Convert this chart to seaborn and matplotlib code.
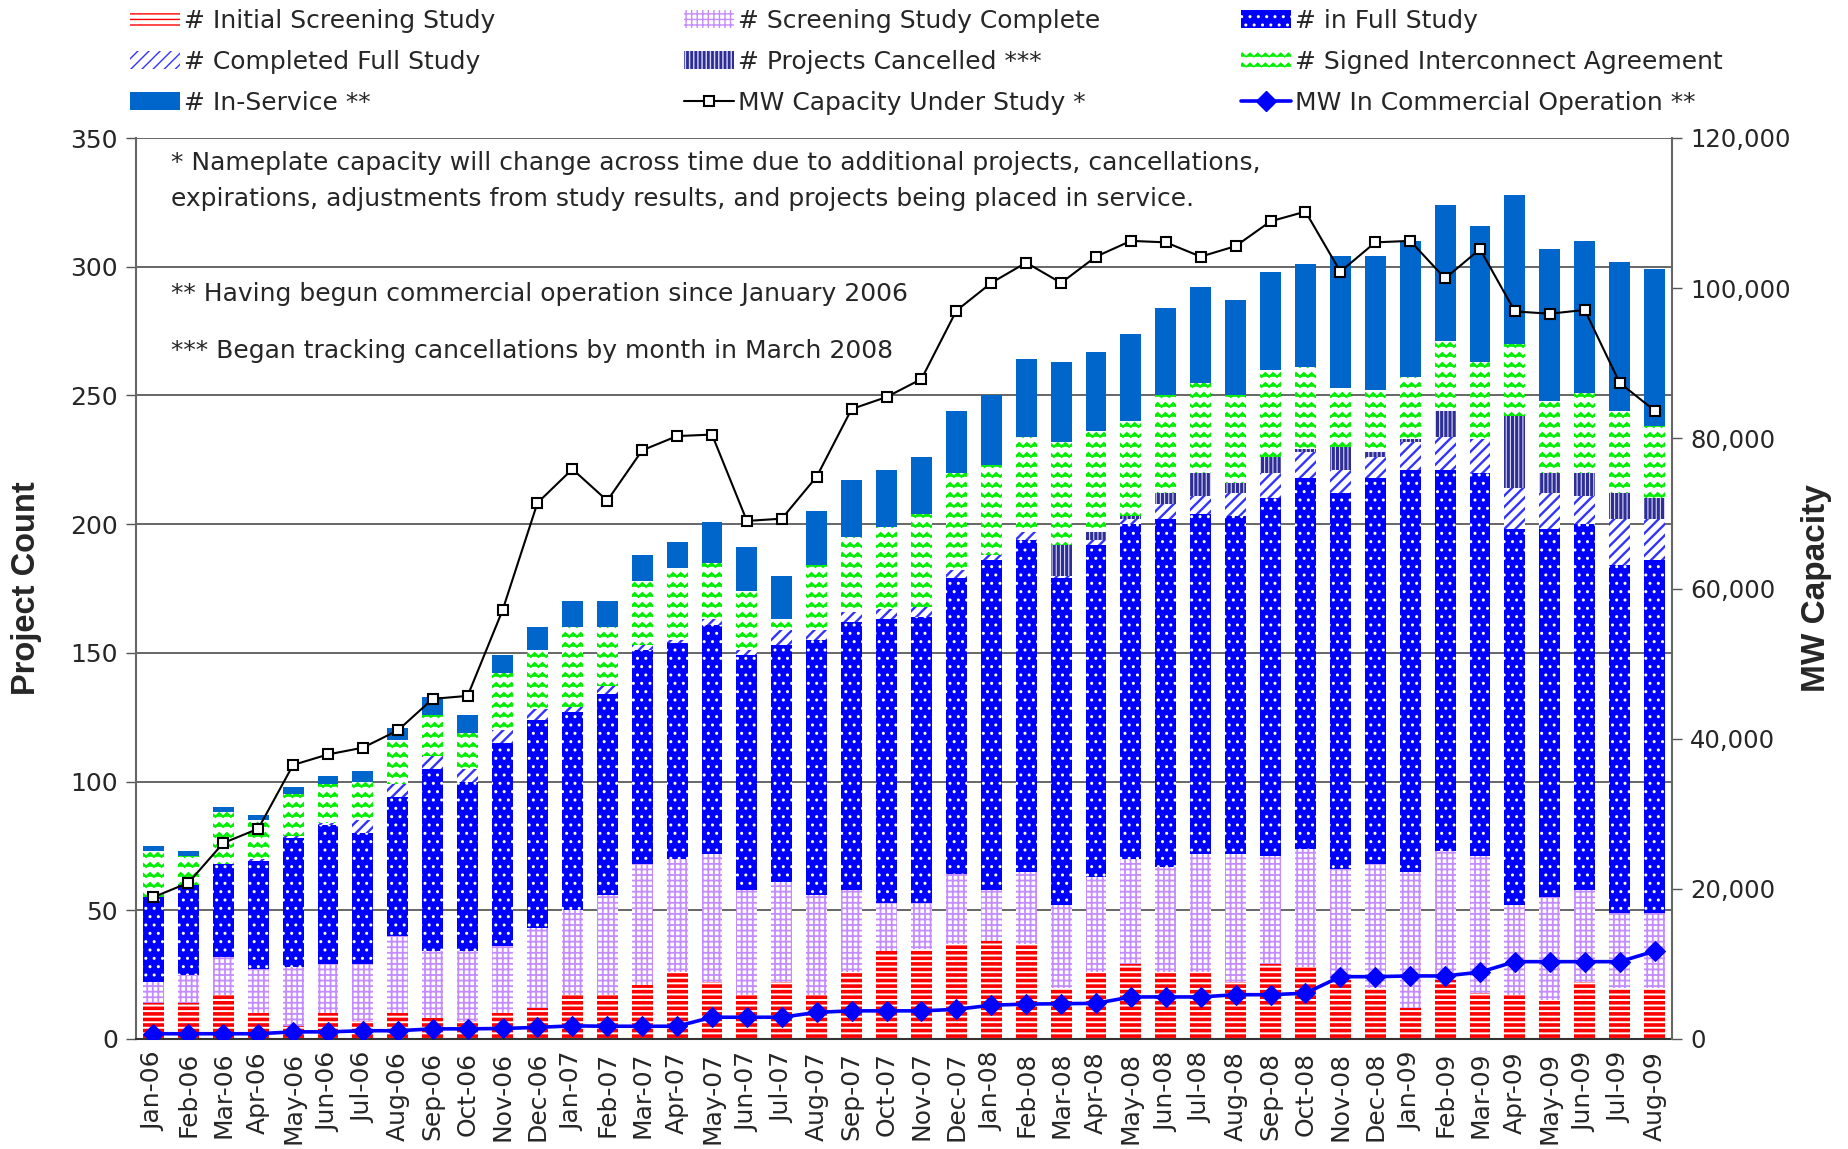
import warnings
import numpy as np
import pandas as pd
import matplotlib
matplotlib.use("Agg")
import matplotlib.pyplot as plt
import matplotlib.hatch as mhatch
from matplotlib.path import Path
from matplotlib.patches import Patch
from matplotlib.lines import Line2D
from matplotlib.ticker import FuncFormatter
import seaborn as sns

warnings.filterwarnings("ignore")

# ---------------- data ----------------
months = ["Jan-06", "Feb-06", "Mar-06", "Apr-06", "May-06", "Jun-06", "Jul-06", "Aug-06",
          "Sep-06", "Oct-06", "Nov-06", "Dec-06", "Jan-07", "Feb-07", "Mar-07", "Apr-07",
          "May-07", "Jun-07", "Jul-07", "Aug-07", "Sep-07", "Oct-07", "Nov-07", "Dec-07",
          "Jan-08", "Feb-08", "Mar-08", "Apr-08", "May-08", "Jun-08", "Jul-08", "Aug-08",
          "Sep-08", "Oct-08", "Nov-08", "Dec-08", "Jan-09", "Feb-09", "Mar-09", "Apr-09",
          "May-09", "Jun-09", "Jul-09", "Aug-09"]

initial_screening = [14, 14, 17, 10, 5, 10, 7, 10, 8, 7, 10, 12,
                     17, 17, 21, 26, 22, 17, 22, 17, 26, 34, 35, 37,
                     38, 37, 20, 26, 29, 26, 26, 22, 29, 28, 23, 20,
                     12, 23, 18, 17, 15, 22, 20, 20]
screening_complete = [8, 11, 15, 17, 23, 19, 22, 30, 26, 27, 26, 31,
                      33, 39, 47, 44, 50, 41, 39, 39, 32, 19, 18, 27,
                      20, 28, 32, 37, 41, 41, 46, 50, 42, 46, 43, 48,
                      53, 50, 53, 35, 40, 36, 29, 29]
in_full_study = [33, 35, 36, 42, 50, 54, 51, 54, 71, 66, 79, 81,
                 77, 78, 83, 84, 89, 91, 92, 99, 104, 110, 111, 115,
                 128, 129, 127, 129, 130, 135, 132, 131, 139, 144, 146, 150,
                 156, 148, 149, 146, 143, 142, 135, 137]
completed_full = [0, 0, 0, 1, 1, 1, 5, 5, 5, 5, 5, 4,
                  2, 3, 2, 1, 2, 2, 6, 4, 4, 4, 4, 3,
                  2, 3, 1, 2, 2, 6, 7, 9, 10, 10, 9, 8,
                  11, 13, 13, 16, 14, 11, 18, 16]
cancelled = [0, 0, 0, 0, 0, 0, 0, 0, 0, 0, 0, 0,
             0, 0, 0, 0, 0, 0, 0, 0, 0, 0, 0, 0,
             0, 0, 12, 3, 1, 4, 9, 4, 6, 1, 9, 2,
             1, 10, 0, 28, 8, 9, 10, 8]
signed_ia = [18, 11, 20, 15, 16, 15, 15, 17, 16, 14, 22, 23,
             31, 23, 25, 28, 22, 23, 4, 25, 29, 32, 36, 38,
             35, 37, 40, 39, 37, 38, 35, 34, 34, 32, 23, 24,
             24, 27, 30, 28, 28, 31, 32, 28]
in_service = [2, 2, 2, 2, 3, 3, 4, 5, 7, 7, 7, 9,
              10, 10, 10, 10, 16, 17, 17, 21, 22, 22, 22, 24,
              27, 30, 31, 31, 34, 34, 37, 37, 38, 40, 51, 52,
              53, 53, 53, 58, 59, 59, 58, 61]

mw_under_study = [18900, 20800, 26100, 28000, 36500, 37900, 38800, 41100, 45300, 45700, 57100, 71400,
                  75900, 71700, 78400, 80300, 80500, 69000, 69300, 74900, 83900, 85500, 87900, 97000,
                  100700, 103400, 100700, 104200, 106300, 106100, 104200, 105600, 108900, 110200, 102200, 106100,
                  106300, 101300, 105200, 96900, 96600, 97100, 87400, 83700]
mw_commercial = [700, 700, 700, 700, 950, 950, 1100, 1100, 1350, 1350, 1400, 1550,
                 1750, 1700, 1700, 1700, 2900, 2900, 2900, 3550, 3750, 3750, 3750, 3950,
                 4500, 4650, 4700, 4750, 5600, 5600, 5600, 5900, 5900, 6100, 8300, 8300,
                 8400, 8400, 8900, 10300, 10300, 10300, 10300, 11700]

notes = ["* Nameplate capacity will change across time due to additional projects, cancellations,",
         "expirations, adjustments from study results, and projects being placed in service.",
         "** Having begun commercial operation since January 2006",
         "*** Began tracking cancellations by month in March 2008"]

# ---------------- custom zig-zag hatch ----------------
class ZigZagHatch(mhatch.HatchPatternBase):
    def __init__(self, hatch, density):
        self.rows = 10 if "z" in hatch else 0
        self.periods = 13
        self.num_vertices = self.rows * (2 * self.periods + 1)

    def set_vertices_and_codes(self, vertices, codes):
        npts = 2 * self.periods + 1
        xs = np.linspace(0, 1, npts)
        off = np.where(np.arange(npts) % 2 == 0, -0.018, 0.018)
        for r in range(self.rows):
            y0 = (r + 0.5) / self.rows
            sl = slice(r * npts, (r + 1) * npts)
            vertices[sl, 0] = xs
            vertices[sl, 1] = y0 + off
            codes[sl] = Path.LINETO
            codes[r * npts] = Path.MOVETO


mhatch._hatch_types.append(ZigZagHatch)
_orig_validate = mhatch._validate_hatch_pattern
mhatch._validate_hatch_pattern = lambda h: _orig_validate(h.replace("z", "") if isinstance(h, str) else h)

# ---------------- styling ----------------
sns.set_style("white")
plt.rcParams["font.family"] = ["DejaVu Sans"]

layers = [
    ("# Initial Screening Study", initial_screening, dict(facecolor="white", edgecolor="#FF0000", hatch="---"), 2.6),
    ("# Screening Study Complete", screening_complete, dict(facecolor="white", edgecolor="#C58CFF", hatch="+++"), 1.3),
    ("# in Full Study", in_full_study, dict(facecolor="#0000FF", edgecolor="white", hatch=".."), 1.0),
    ("# Completed Full Study", completed_full, dict(facecolor="white", edgecolor="#3333FF", hatch="///"), 1.7),
    ("# Projects Cancelled ***", cancelled, dict(facecolor="#2E2E96", edgecolor="#D8D8F4", hatch="||||"), 0.8),
    ("# Signed Interconnect Agreement", signed_ia, dict(facecolor="white", edgecolor="#00EE00", hatch="z"), 1.6),
    ("# In-Service **", in_service, dict(facecolor="#0066CC", edgecolor="#0066CC", hatch=None), 1.0),
]

W, H = 1848, 1149
fig = plt.figure(figsize=(W / 100, H / 100), dpi=100)
fig.patch.set_facecolor("white")
ax_l, ax_r, ax_t, ax_b = 136, 1672, 138, 1039
ax = fig.add_axes([ax_l / W, 1 - ax_b / H, (ax_r - ax_l) / W, (ax_b - ax_t) / H])
ax.set_facecolor("white")

n = len(months)
bottom = np.zeros(n)
handles_patch = {}
for label, vals, style, hlw in layers:
    vals = np.asarray(vals, dtype=float)
    before = len(ax.patches)
    with plt.rc_context({"hatch.linewidth": hlw}):
        sns.barplot(x=months, y=vals, order=months, ax=ax, bottom=bottom.copy(), width=0.6,
                    color=style["facecolor"], saturation=1, errorbar=None, linewidth=0, **style)
        for p in ax.patches[before:]:
            if hasattr(p, "set_hatch_linewidth"):
                p.set_hatch_linewidth(hlw)
            p.set_zorder(2)
        hp = Patch(linewidth=0, **style)
        if hasattr(hp, "set_hatch_linewidth"):
            hp.set_hatch_linewidth(hlw)
    handles_patch[label] = hp
    bottom += vals

ax.set_xlim(-0.5, n - 0.5)
ax.set_ylim(0, 350)
ax.set_yticks(np.arange(0, 351, 50))
ax.yaxis.grid(True, color="#4d4d4d", linewidth=1.2, zorder=0)
ax.set_axisbelow(True)
ax.set_xlabel("")
ax.set_ylabel("")
ax.set_xticks(np.arange(n))
ax.set_xticklabels(months, rotation=90, fontsize=18)
ax.set_xticks(np.arange(-0.5, n, 1), minor=True)
ax.tick_params(axis="x", which="major", length=0, pad=9)
ax.tick_params(axis="x", which="minor", length=7, width=1, color="#555555", direction="out")
ax.tick_params(axis="y", labelsize=18, length=7, width=1, color="#555555", direction="out", pad=6, left=True)
ax.spines["top"].set_visible(False)
ax.spines["left"].set_color("#666666")
ax.spines["left"].set_linewidth(1.5)
ax.spines["bottom"].set_color("#333333")
ax.spines["bottom"].set_linewidth(1.5)
ax.spines["right"].set_visible(False)

ax2 = ax.twinx()
xpos = np.arange(n)
sns.lineplot(x=xpos, y=mw_under_study, ax=ax2, color="black", linewidth=1.5, marker="s",
             markersize=7.5, markerfacecolor="white", markeredgecolor="black", markeredgewidth=1.5)
sns.lineplot(x=xpos, y=mw_commercial, ax=ax2, color="#0000FF", linewidth=2.6, marker="D",
             markersize=10, markerfacecolor="#0000FF", markeredgecolor="#0000FF")
ax2.set_ylim(0, 120000)
ax2.set_yticks(np.arange(0, 120001, 20000))
ax2.yaxis.set_major_formatter(FuncFormatter(lambda v, p: f"{int(v):,}"))
ax2.tick_params(axis="y", labelsize=17.5, length=7, width=1, color="#555555", direction="out", pad=6)
ax2.set_xlim(-0.5, n - 0.5)
ax2.set_ylabel("")
ax2.set_xlabel("")
for s in ["top", "left", "bottom"]:
    ax2.spines[s].set_visible(False)
ax2.spines["right"].set_color("#666666")
ax2.spines["right"].set_linewidth(1.5)

# axis titles
fig.text(27 / W, 1 - 588 / H, "Project Count", rotation=90, ha="center", va="center",
         fontsize=23.5, fontweight="bold", family=["Liberation Sans", "DejaVu Sans"])
fig.text(1817 / W, 1 - 588 / H, "MW Capacity", rotation=90, ha="center", va="center",
         fontsize=24, fontweight="bold", family=["Liberation Sans", "DejaVu Sans"])

# notes
note_y = [163, 199, 294, 351]
for t, y in zip(notes, note_y):
    fig.text(171 / W, 1 - y / H, t, ha="left", va="center", fontsize=18)

# legends (three columns)
line_study = Line2D([], [], color="black", linewidth=1.5, marker="s", markersize=7.5,
                    markerfacecolor="white", markeredgecolor="black", markeredgewidth=1.5)
line_comm = Line2D([], [], color="#0000FF", linewidth=2.6, marker="D", markersize=10,
                   markerfacecolor="#0000FF", markeredgecolor="#0000FF")
col1 = [("# Initial Screening Study", handles_patch["# Initial Screening Study"]),
        ("# Completed Full Study", handles_patch["# Completed Full Study"]),
        ("# In-Service **", handles_patch["# In-Service **"])]
col2 = [("# Screening Study Complete", handles_patch["# Screening Study Complete"]),
        ("# Projects Cancelled ***", handles_patch["# Projects Cancelled ***"]),
        ("MW Capacity Under Study *", line_study)]
col3 = [("# in Full Study", handles_patch["# in Full Study"]),
        ("# Signed Interconnect Agreement", handles_patch["# Signed Interconnect Agreement"]),
        ("MW In Commercial Operation **", line_comm)]
for col, xleft in zip([col1, col2, col3], [130, 684, 1241]):
    fig.legend([h for _, h in col], [l for l, _ in col], loc="upper left",
               bbox_to_anchor=(xleft / W, 1 - 9 / H), frameon=False, fontsize=18,
               handlelength=2.0, handleheight=0.75, handletextpad=0.15, labelspacing=0.68,
               borderpad=0, borderaxespad=0)

fig.savefig("out.png", dpi=100, facecolor="white")
